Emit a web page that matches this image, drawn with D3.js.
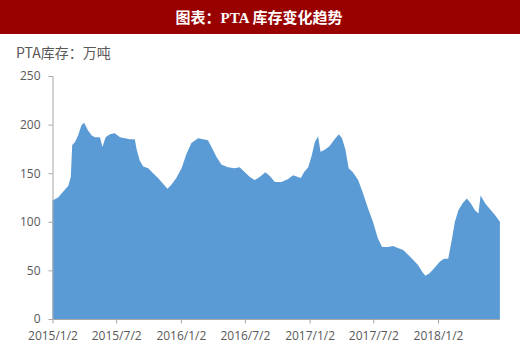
<!DOCTYPE html>
<html>
<head>
<meta charset="utf-8">
<script src="https://cdn.jsdelivr.net/npm/d3@7"></script>
<style>
  body { margin: 0; background: #fff; }
  svg text { font-family: "Open Sans", "Liberation Sans", sans-serif; fill: #595959; }
</style>
</head>
<body>
<div id="chart"></div>
<script>
var svgWidth = 520;
var svgHeight = 347;

// PTA inventory (10k tonnes)
var dates = [
  "2015/1/2", "2015/1/18", "2015/2/1", "2015/2/16", "2015/2/23", "2015/2/27", "2015/3/7",
  "2015/3/16", "2015/3/25", "2015/4/2", "2015/4/13", "2015/4/23", "2015/5/2", "2015/5/17",
  "2015/5/24", "2015/6/2", "2015/6/14", "2015/6/28", "2015/7/13", "2015/7/27", "2015/8/10",
  "2015/8/24", "2015/8/29", "2015/9/7", "2015/9/17", "2015/10/1", "2015/10/15", "2015/10/29",
  "2015/11/13", "2015/11/25", "2015/12/6", "2015/12/20", "2016/1/4", "2016/1/18", "2016/2/1",
  "2016/2/20", "2016/3/5", "2016/3/19", "2016/3/29", "2016/4/12", "2016/4/26", "2016/5/15",
  "2016/6/3", "2016/6/17", "2016/7/2", "2016/7/16", "2016/7/30", "2016/8/13", "2016/8/29",
  "2016/9/11", "2016/9/25", "2016/10/14", "2016/11/2", "2016/11/16", "2016/11/30", "2016/12/8",
  "2016/12/17", "2016/12/29", "2017/1/7", "2017/1/17", "2017/1/26", "2017/2/2", "2017/2/14",
  "2017/2/28", "2017/3/14", "2017/3/26", "2017/4/4", "2017/4/14", "2017/4/23", "2017/5/5",
  "2017/5/20", "2017/6/3", "2017/6/17", "2017/7/1", "2017/7/15", "2017/7/27", "2017/8/13",
  "2017/8/27", "2017/9/10", "2017/9/25", "2017/10/9", "2017/10/23", "2017/11/6", "2017/11/18",
  "2017/11/27", "2017/12/9", "2017/12/24", "2018/1/7", "2018/1/19", "2018/1/31", "2018/2/10",
  "2018/2/19", "2018/3/1", "2018/3/13", "2018/3/25", "2018/4/5", "2018/4/17", "2018/4/27",
  "2018/5/3", "2018/5/16", "2018/5/30", "2018/6/13", "2018/6/27"
];
var inventory = [
  122, 125, 131, 137, 146, 179, 182,
  189, 199, 202, 194, 189, 187, 187,
  177, 187, 190, 191, 187, 186, 185,
  185, 175, 163, 157, 155, 150, 145,
  139, 134, 138, 145, 155, 170, 181,
  186, 185, 184, 177, 167, 159, 156,
  155, 156, 151, 146, 143, 146, 151,
  147, 141, 141, 144, 148, 146, 145,
  151, 156, 167, 182, 188, 172, 174,
  178, 185, 190, 186, 174, 155, 151,
  143, 129, 114, 100, 83, 74, 74,
  75, 73, 71, 66, 61, 55.5, 48.6,
  44.5, 47, 53, 59, 62, 62, 81,
  100, 112, 119, 124, 119, 112, 108.5,
  127, 119, 113, 107, 100
];
var xTicks = ["2015/1/2", "2015/7/2", "2016/1/2", "2016/7/2", "2017/1/2", "2017/7/2", "2018/1/2"];
var yTicks = [0, 50, 100, 150, 200, 250];

var parseDate = d3.timeParse("%Y/%-m/%-d");
var data = dates.map(function(d, i) {
  return { date: parseDate(d), value: inventory[i] };
});

var svg = d3.select("#chart")
  .append("svg")
  .attr("width", svgWidth)
  .attr("height", svgHeight);

// title bar
svg.append("rect")
  .attr("x", 0)
  .attr("y", 0)
  .attr("width", svgWidth)
  .attr("height", 34)
  .attr("fill", "#990000");

svg.append("text")
  .attr("x", 259)
  .attr("y", 23)
  .attr("text-anchor", "middle")
  .style("font-family", "'Liberation Serif', 'Noto Sans CJK SC', serif")
  .style("font-weight", "bold")
  .style("font-size", "15px")
  .style("fill", "#ffffff")
  .text("图表：PTA 库存变化趋势");

svg.append("text")
  .attr("x", 16)
  .attr("y", 58)
  .style("font-family", "'Noto Sans CJK SC', sans-serif")
  .style("font-size", "14px")
  .style("fill", "#595959")
  .text("PTA库存：万吨");

// scales: x is a date axis, 2015/1/2 .. 2018/1/2 mapped to the label positions
var xScale = d3.scaleTime()
  .domain([parseDate("2015/1/2"), parseDate("2018/1/2")])
  .range([52.5, 438]);

var yScale = d3.scaleLinear()
  .domain([0, 250])
  .range([319, 76]);

var area = d3.area()
  .x(d => xScale(d.date))
  .y0(yScale(0))
  .y1(d => yScale(d.value));

svg.append("path")
  .datum(data)
  .attr("d", area)
  .attr("fill", "#5B9BD5");

// y axis
var leftAxis = d3.axisLeft(yScale)
  .tickValues(yTicks)
  .tickSize(4)
  .tickPadding(8);

var yAxis = svg.append("g")
  .attr("transform", "translate(52.5,0)")
  .call(leftAxis);
yAxis.select(".domain").attr("stroke", "#a6a6a6").attr("d", "M0.5," + yScale(250) + "V" + yScale(0));
yAxis.selectAll(".tick line").attr("stroke", "#a6a6a6");
yAxis.selectAll(".tick text")
  .style("font-size", "12px")
  .style("fill", "#595959");

// x axis
var bottomAxis = d3.axisBottom(xScale)
  .tickValues(xTicks.map(parseDate))
  .tickFormat(d3.timeFormat("%Y/%-m/%-d"))
  .tickSize(4)
  .tickSizeOuter(0)
  .tickPadding(7.5);

var xAxis = svg.append("g")
  .attr("transform", "translate(0,319.5)")
  .call(bottomAxis);
xAxis.select(".domain").attr("stroke", "#a6a6a6").attr("d", "M52.5,0H" + xScale(data[data.length - 1].date));
xAxis.selectAll(".tick line").attr("stroke", "#a6a6a6");
xAxis.selectAll(".tick text")
  .style("font-size", "12px")
  .style("fill", "#595959");
</script>
</body>
</html>
